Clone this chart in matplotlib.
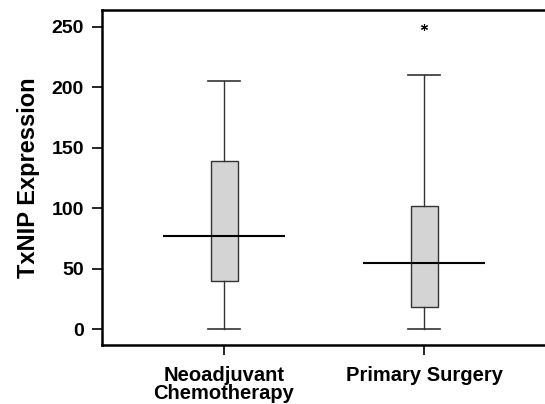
import matplotlib.pyplot as plt
import numpy as np

plt.rcParams['font.family'] = ['Liberation Sans', 'DejaVu Sans']

groups = ['Neoadjuvant\nChemotherapy', 'Primary Surgery']
whislo = [0, 0]
q1 = [40, 18]
med = [77, 55]
q3 = [139, 102]
whishi = [205, 210]
outliers = [[], [250]]

stats = []
for i in range(len(groups)):
    stats.append(dict(whislo=whislo[i], q1=q1[i], med=med[i], q3=q3[i],
                      whishi=whishi[i], fliers=outliers[i], label=groups[i]))

fig = plt.figure(figsize=(5.45, 4.04), dpi=100)
ax = fig.add_axes([102/545, 1 - 345/404, (546 - 102)/545, (345 - 10)/404])

pos = np.arange(1, len(groups) + 1)
ax.bxp(stats, positions=pos, widths=0.135, patch_artist=True,
       boxprops=dict(facecolor='#d4d4d4', edgecolor='#333333', linewidth=1),
       whiskerprops=dict(color='#333333', linewidth=1),
       capprops=dict(color='#333333', linewidth=1.2),
       capwidths=0.16,
       medianprops=dict(linewidth=0),
       flierprops=dict(marker=(6, 2, 0), markersize=5, markeredgecolor='black',
                       markeredgewidth=0.8, linestyle='none'))
ax.hlines(med, pos - 0.305, pos + 0.305, colors='black', linewidth=1.5, zorder=3)

ax.set_xlim(0.39, 2.61)
ax.set_ylim(-13.2, 264)
ax.set_yticks([0, 50, 100, 150, 200, 250])
ax.set_xticks(pos)
ax.set_xticklabels(groups, fontsize=14.5, fontweight='bold', linespacing=0.95)
ax.tick_params(axis='y', labelsize=14, width=1.2, length=7, direction='out', pad=6)
ax.tick_params(axis='x', width=1.2, length=7, direction='out', pad=8)
for lab in ax.get_yticklabels():
    lab.set_fontweight('bold')
ax.set_ylabel('TxNIP Expression', fontsize=17, fontweight='bold', labelpad=8)
for s in ax.spines.values():
    s.set_linewidth(1.8)

fig.savefig('out.png', dpi=100)
